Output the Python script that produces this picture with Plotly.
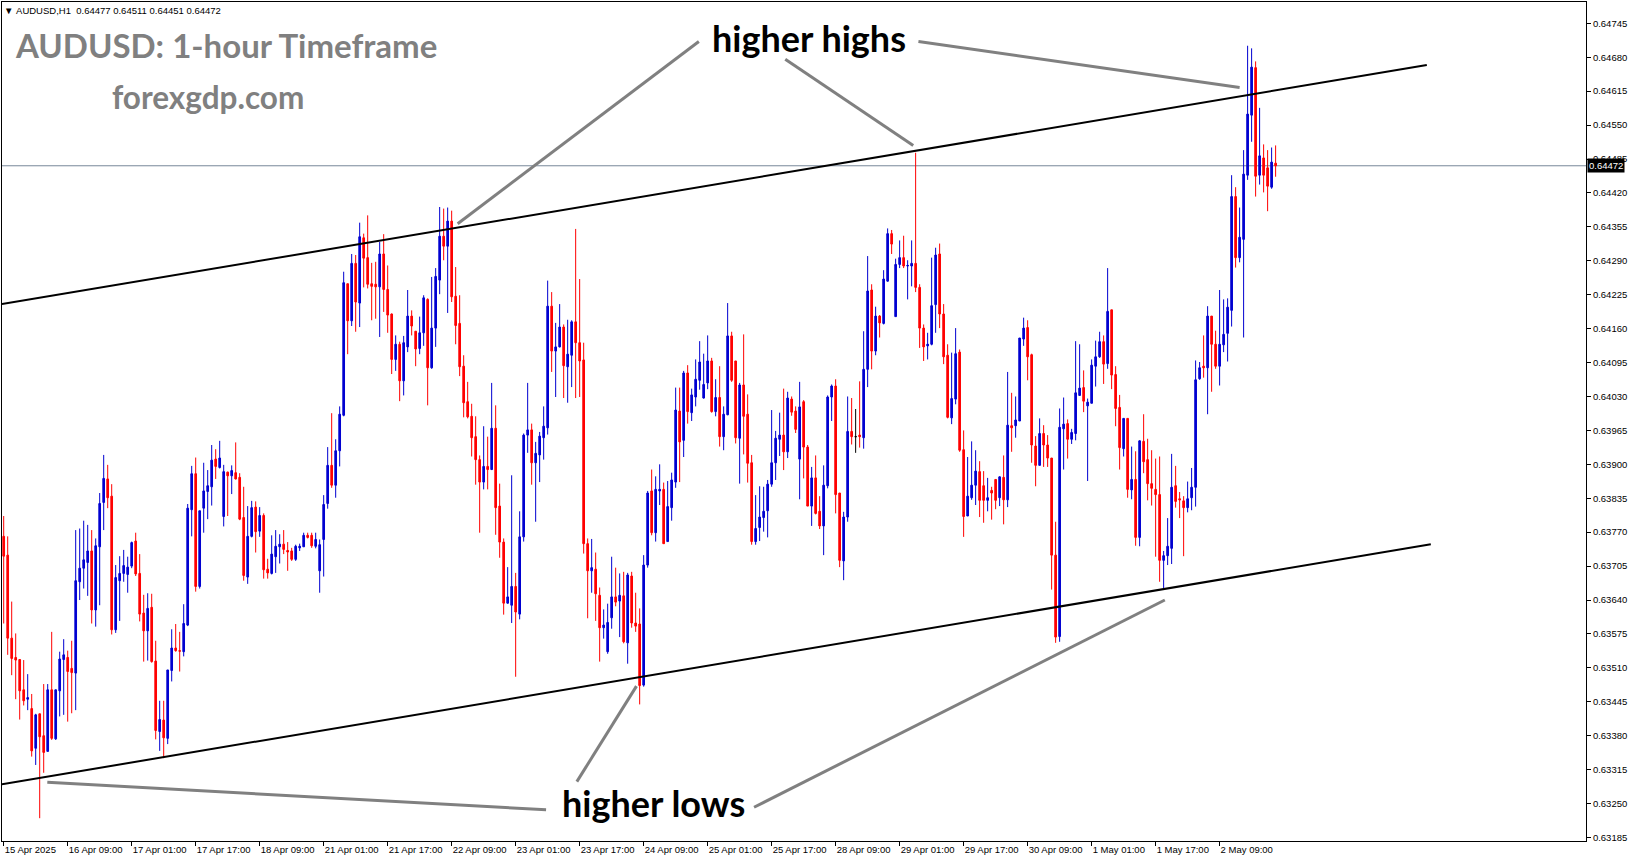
import plotly.graph_objects as go

# ---------------- data (AUDUSD H1) ----------------
open_ = [
0.63762,0.63726,0.63567,0.63530,0.63526,0.63468,0.63450,0.63432,0.63356,0.63422,
0.63380,0.63350,0.63468,0.63374,0.63466,0.63526,0.63530,0.63509,0.63500,0.63675,
0.63701,0.63712,0.63734,0.63621,0.63742,0.63827,0.63872,0.63839,0.63583,0.63677,
0.63691,0.63689,0.63705,0.63753,0.63691,0.63615,0.63581,0.63626,0.63523,0.63388,
0.63410,0.63375,0.63505,0.63548,0.63543,0.63541,0.63592,0.63813,0.63882,0.63666,
0.63816,0.63848,0.63857,0.63910,0.63894,0.63800,0.63885,0.63878,0.63884,0.63875,
0.63798,0.63684,0.63762,0.63818,0.63772,0.63802,0.63699,0.63691,0.63723,0.63742,
0.63747,0.63735,0.63734,0.63718,0.63740,0.63742,0.63764,0.63764,0.63743,0.63696,
0.63756,0.63825,0.63898,0.63860,0.63926,0.63994,0.64246,0.64175,0.64285,0.64209,
0.64334,0.64296,0.64246,0.64245,0.64240,0.64303,0.64235,0.64188,0.64101,0.64130,
0.64060,0.64125,0.64184,0.64155,0.64122,0.64152,0.64216,0.64085,0.64161,0.64253,
0.64337,0.64318,0.64366,0.64222,0.64170,0.64088,0.64020,0.63992,0.63953,0.63909,
0.63866,0.63896,0.63890,0.63969,0.63820,0.63751,0.63634,0.63630,0.63666,0.63613,
0.63761,0.63956,0.63966,0.63903,0.63918,0.63951,0.63970,0.64203,0.64117,0.64125,
0.64163,0.64087,0.64109,0.64173,0.64133,0.64100,0.63748,0.63696,0.63699,0.63649,
0.63587,0.63541,0.63606,0.63646,0.63638,0.63648,0.63558,0.63686,0.63596,0.63594,
0.63477,0.63707,0.63849,0.63769,0.63849,0.63852,0.63752,0.63817,0.63866,0.64002,
0.63946,0.64075,0.63999,0.64029,0.64061,0.64027,0.64056,0.64098,0.64001,0.64028,
0.63953,0.63995,0.64146,0.64098,0.63950,0.64052,0.63996,0.63903,0.63752,0.63779,
0.63798,0.63811,0.63862,0.63903,0.63948,0.63956,0.63924,0.64025,0.64002,0.63910,
0.64020,0.63933,0.63820,0.63874,0.63810,0.63782,0.63859,0.64029,0.64050,0.63845,
0.63715,0.63799,0.63963,0.63953,0.63956,0.63951,0.64082,0.64234,0.64117,0.64184,
0.64170,0.64251,0.64342,0.64183,0.64283,0.64296,0.64280,0.64280,0.64285,0.64239,
0.64161,0.64127,0.64130,0.64206,0.64303,0.64188,0.64109,0.63989,0.64025,0.64115,
0.63928,0.63801,0.63836,0.63860,0.63886,0.63859,0.63831,0.63850,0.63871,0.63836,
0.63875,0.63832,0.63974,0.63974,0.63983,0.64140,0.64162,0.64110,0.63935,0.63898,
0.63959,0.63937,0.63912,0.63726,0.63570,0.63968,0.63978,0.63948,0.63959,0.64032,
0.64047,0.64012,0.64017,0.64088,0.64106,0.64135,0.64093,0.64196,0.64072,0.64009,
0.63930,0.63988,0.63851,0.63871,0.63760,0.63944,0.63909,0.63863,0.63852,0.63842,
0.63716,0.63725,0.63739,0.63859,0.63834,0.63830,0.63817,0.63836,0.63856,0.64064,
0.64088,0.64085,0.64184,0.64130,0.64088,0.64129,0.64151,0.64195,0.64413,0.64296,
0.64331,0.64454,0.64569,0.64660,0.64454,0.64487,0.64468,0.64431,0.64477]

high = [
0.63801,0.63762,0.63637,0.63576,0.63526,0.63525,0.63498,0.63460,0.63422,0.63422,
0.63479,0.63479,0.63579,0.63468,0.63541,0.63565,0.63543,0.63562,0.63774,0.63777,
0.63792,0.63784,0.63774,0.63758,0.63845,0.63918,0.63899,0.63862,0.63707,0.63724,
0.63736,0.63723,0.63752,0.63769,0.63728,0.63650,0.63653,0.63652,0.63562,0.63447,
0.63447,0.63506,0.63584,0.63594,0.63579,0.63632,0.63824,0.63897,0.63913,0.63811,
0.63903,0.63889,0.63937,0.63929,0.63945,0.63899,0.63886,0.63898,0.63942,0.63883,
0.63857,0.63820,0.63830,0.63829,0.63818,0.63806,0.63719,0.63764,0.63774,0.63766,
0.63774,0.63751,0.63740,0.63746,0.63748,0.63769,0.63769,0.63769,0.63769,0.63756,
0.63841,0.63933,0.63998,0.63948,0.64011,0.64269,0.64246,0.64303,0.64301,0.64363,
0.64342,0.64377,0.64286,0.64288,0.64326,0.64341,0.64281,0.64189,0.64147,0.64135,
0.64146,0.64234,0.64195,0.64155,0.64183,0.64224,0.64218,0.64259,0.64276,0.64393,
0.64390,0.64392,0.64386,0.64278,0.64224,0.64109,0.64058,0.64016,0.63992,0.63917,
0.63973,0.63953,0.64056,0.64013,0.63863,0.63758,0.63703,0.63879,0.63692,0.63810,
0.63959,0.64056,0.63978,0.63943,0.63962,0.64011,0.64252,0.64230,0.64171,0.64207,
0.64168,0.64177,0.64176,0.64351,0.64255,0.64133,0.63758,0.63757,0.63731,0.63664,
0.63622,0.63633,0.63723,0.63702,0.63691,0.63694,0.63692,0.63694,0.63654,0.63624,
0.63726,0.63849,0.63890,0.63877,0.63900,0.63865,0.63868,0.63884,0.64047,0.64047,
0.64079,0.64090,0.64045,0.64101,0.64136,0.64112,0.64147,0.64104,0.64063,0.64088,
0.64011,0.64209,0.64154,0.64098,0.64056,0.64149,0.64034,0.63918,0.63841,0.63858,
0.63857,0.63870,0.64004,0.63964,0.63999,0.64045,0.64039,0.64030,0.64011,0.64058,
0.64023,0.63937,0.63895,0.63917,0.63839,0.63898,0.64032,0.64053,0.64063,0.63845,
0.63809,0.64030,0.64027,0.64006,0.64059,0.64155,0.64299,0.64245,0.64202,0.64186,
0.64272,0.64352,0.64349,0.64294,0.64329,0.64338,0.64291,0.64329,0.64497,0.64245,
0.64168,0.64152,0.64296,0.64315,0.64323,0.64207,0.64130,0.64114,0.64161,0.64120,
0.63965,0.63914,0.63944,0.63927,0.63906,0.63887,0.63874,0.63857,0.63871,0.63877,
0.63917,0.64077,0.64037,0.64030,0.64142,0.64181,0.64176,0.64112,0.63954,0.63988,
0.63975,0.63956,0.63912,0.63790,0.64007,0.64028,0.63986,0.63968,0.64136,0.64130,
0.64080,0.64026,0.64101,0.64137,0.64154,0.64147,0.64276,0.64196,0.64088,0.64033,
0.63988,0.63988,0.63934,0.63925,0.63946,0.63996,0.63949,0.63927,0.63911,0.63915,
0.63734,0.63797,0.63920,0.63897,0.63847,0.63839,0.63867,0.63893,0.64099,0.64096,
0.64147,0.64203,0.64184,0.64156,0.64234,0.64216,0.64218,0.64454,0.64431,0.64392,
0.64502,0.64702,0.64697,0.64672,0.64583,0.64513,0.64502,0.64507,0.64511]

low = [
0.63595,0.63535,0.63496,0.63450,0.63411,0.63438,0.63429,0.63340,0.63324,0.63222,
0.63309,0.63350,0.63372,0.63372,0.63417,0.63420,0.63407,0.63423,0.63429,0.63640,
0.63662,0.63648,0.63595,0.63589,0.63630,0.63774,0.63816,0.63574,0.63577,0.63600,
0.63675,0.63654,0.63701,0.63686,0.63599,0.63522,0.63524,0.63520,0.63373,0.63351,
0.63337,0.63364,0.63484,0.63541,0.63503,0.63532,0.63590,0.63762,0.63656,0.63662,
0.63769,0.63795,0.63821,0.63872,0.63892,0.63781,0.63801,0.63843,0.63871,0.63793,
0.63677,0.63671,0.63760,0.63731,0.63761,0.63681,0.63681,0.63689,0.63692,0.63710,
0.63728,0.63696,0.63715,0.63715,0.63734,0.63742,0.63758,0.63740,0.63739,0.63654,
0.63685,0.63815,0.63855,0.63836,0.63896,0.63992,0.64111,0.64165,0.64154,0.64163,
0.64239,0.64237,0.64176,0.64179,0.64144,0.64192,0.64152,0.64073,0.64079,0.64021,
0.64032,0.64115,0.64147,0.64088,0.64111,0.64127,0.64013,0.64083,0.64125,0.64226,
0.64291,0.64190,0.64211,0.64130,0.64069,0.63990,0.63988,0.63915,0.63861,0.63769,
0.63852,0.63852,0.63889,0.63765,0.63721,0.63612,0.63633,0.63596,0.63493,0.63603,
0.63752,0.63922,0.63861,0.63790,0.63866,0.63909,0.63957,0.64077,0.64029,0.64124,
0.64027,0.64018,0.64048,0.64027,0.64029,0.63729,0.63605,0.63654,0.63600,0.63522,
0.63566,0.63537,0.63585,0.63628,0.63569,0.63557,0.63518,0.63587,0.63579,0.63440,
0.63474,0.63702,0.63764,0.63752,0.63822,0.63748,0.63752,0.63792,0.63855,0.63866,
0.63914,0.63978,0.63983,0.64011,0.64043,0.64026,0.64044,0.63999,0.63992,0.63934,
0.63927,0.63994,0.64058,0.63940,0.63863,0.63919,0.63865,0.63746,0.63746,0.63753,
0.63771,0.63760,0.63857,0.63870,0.63916,0.63889,0.63912,0.63993,0.63960,0.63833,
0.63873,0.63820,0.63782,0.63804,0.63776,0.63726,0.63854,0.63983,0.63806,0.63703,
0.63678,0.63790,0.63938,0.63922,0.63932,0.63930,0.64048,0.64082,0.64109,0.64143,
0.64168,0.64250,0.64303,0.64183,0.64276,0.64276,0.64216,0.64241,0.64230,0.64123,
0.64098,0.64101,0.64128,0.64152,0.64161,0.64092,0.63988,0.63977,0.64015,0.63924,
0.63761,0.63801,0.63832,0.63822,0.63799,0.63788,0.63810,0.63794,0.63814,0.63820,
0.63785,0.63818,0.63924,0.63951,0.63983,0.64127,0.64061,0.63903,0.63858,0.63898,
0.63895,0.63895,0.63660,0.63558,0.63560,0.63890,0.63911,0.63939,0.63946,0.64032,
0.64000,0.63868,0.64017,0.64049,0.64104,0.64054,0.64083,0.64044,0.63973,0.63890,
0.63915,0.63836,0.63833,0.63744,0.63743,0.63883,0.63831,0.63821,0.63723,0.63675,
0.63661,0.63707,0.63709,0.63817,0.63797,0.63724,0.63808,0.63812,0.63819,0.64062,
0.64066,0.63996,0.64039,0.64083,0.64051,0.64115,0.64097,0.64164,0.64277,0.64287,
0.64143,0.64445,0.64518,0.64413,0.64436,0.64421,0.64385,0.64428,0.64451]

close = [
0.63724,0.63567,0.63528,0.63525,0.63466,0.63447,0.63453,0.63351,0.63420,0.63378,
0.63348,0.63468,0.63375,0.63468,0.63527,0.63535,0.63503,0.63501,0.63677,0.63701,
0.63717,0.63734,0.63621,0.63744,0.63825,0.63873,0.63836,0.63583,0.63683,0.63691,
0.63706,0.63703,0.63750,0.63690,0.63613,0.63581,0.63624,0.63522,0.63390,0.63411,
0.63376,0.63506,0.63548,0.63543,0.63542,0.63595,0.63816,0.63882,0.63666,0.63811,
0.63849,0.63859,0.63908,0.63896,0.63912,0.63886,0.63878,0.63888,0.63872,0.63795,
0.63687,0.63762,0.63817,0.63771,0.63802,0.63698,0.63692,0.63728,0.63743,0.63747,
0.63737,0.63732,0.63718,0.63743,0.63743,0.63764,0.63760,0.63744,0.63756,0.63746,
0.63823,0.63898,0.63860,0.63926,0.63996,0.64248,0.64175,0.64285,0.64211,0.64336,
0.64295,0.64245,0.64241,0.64240,0.64303,0.64235,0.64186,0.64101,0.64130,0.64060,
0.64133,0.64184,0.64165,0.64121,0.64152,0.64219,0.64085,0.64161,0.64260,0.64337,
0.64318,0.64366,0.64221,0.64166,0.64087,0.64018,0.63991,0.63951,0.63909,0.63866,
0.63896,0.63890,0.63969,0.63817,0.63751,0.63634,0.63646,0.63666,0.63617,0.63761,
0.63956,0.63966,0.63903,0.63921,0.63954,0.63973,0.64203,0.64117,0.64125,0.64163,
0.64089,0.64111,0.64173,0.64133,0.64098,0.63748,0.63696,0.63702,0.63652,0.63587,
0.63592,0.63597,0.63646,0.63636,0.63649,0.63560,0.63688,0.63596,0.63590,0.63476,
0.63707,0.63845,0.63769,0.63852,0.63852,0.63748,0.63819,0.63870,0.64004,0.63943,
0.64075,0.64001,0.64033,0.64063,0.64096,0.64053,0.64098,0.64001,0.64028,0.63953,
0.63996,0.64146,0.64061,0.63951,0.64052,0.63992,0.63902,0.63752,0.63777,0.63799,
0.63810,0.63862,0.63903,0.63950,0.63956,0.63924,0.64027,0.64000,0.63967,0.64010,
0.63933,0.63820,0.63874,0.63806,0.63782,0.63860,0.64029,0.64050,0.63842,0.63716,
0.63799,0.63963,0.63953,0.63953,0.63953,0.64082,0.64232,0.64117,0.64184,0.64171,
0.64255,0.64342,0.64322,0.64283,0.64296,0.64280,0.64281,0.64285,0.64239,0.64161,
0.64125,0.64130,0.64204,0.64301,0.64188,0.64106,0.63990,0.64026,0.64112,0.63927,
0.63800,0.63839,0.63860,0.63887,0.63831,0.63831,0.63836,0.63845,0.63831,0.63876,
0.63832,0.63975,0.63970,0.63985,0.64142,0.64161,0.64106,0.63937,0.63898,0.63959,
0.63937,0.63912,0.63726,0.63569,0.63971,0.63977,0.63948,0.63961,0.64037,0.64046,
0.64021,0.64019,0.64090,0.64106,0.64135,0.64092,0.64193,0.64071,0.64007,0.63932,
0.63988,0.63852,0.63871,0.63760,0.63945,0.63905,0.63863,0.63854,0.63842,0.63716,
0.63725,0.63743,0.63856,0.63829,0.63832,0.63817,0.63834,0.63856,0.64062,0.64085,
0.64085,0.64184,0.64130,0.64088,0.64130,0.64149,0.64201,0.64413,0.64296,0.64335,
0.64456,0.64571,0.64661,0.64452,0.64491,0.64454,0.64433,0.64479,0.64472]

# time-axis labels, one every 16 hourly bars
x_labels = ["15 Apr 2025", "16 Apr 09:00", "17 Apr 01:00", "17 Apr 17:00", "18 Apr 09:00",
            "21 Apr 01:00", "21 Apr 17:00", "22 Apr 09:00", "23 Apr 01:00", "23 Apr 17:00",
            "24 Apr 09:00", "25 Apr 01:00", "25 Apr 17:00", "28 Apr 09:00", "29 Apr 01:00",
            "29 Apr 17:00", "30 Apr 09:00", "1 May 01:00", "1 May 17:00", "2 May 09:00"]
label_step = 16

# price-axis ticks
y_ticks = [0.63185, 0.63250, 0.63315, 0.63380, 0.63445, 0.63510, 0.63575, 0.63640, 0.63705,
           0.63770, 0.63835, 0.63900, 0.63965, 0.64030, 0.64095, 0.64160, 0.64225, 0.64290,
           0.64355, 0.64420, 0.64485, 0.64550, 0.64615, 0.64680, 0.64745]

last_price = 0.64472

# drawn channel lines (bar index, price)
channel_upper = [(-0.43, 0.64207), (355.8, 0.64665)]
channel_lower = [(-0.43, 0.63287), (356.8, 0.63747)]
# pointer lines of the annotations
pointers = [
    [(113.5, 0.64361), (173.8, 0.64710)],
    [(195.4, 0.64676), (227.4, 0.64511)],
    [(228.7, 0.64710), (309.0, 0.64622)],
    [(10.9, 0.63291), (135.6, 0.63238)],
    [(143.3, 0.63292), (158.2, 0.63475)],
    [(187.6, 0.63243), (290.3, 0.63640)],
]

assert len(open_) == len(high) == len(low) == len(close), (len(open_), len(high), len(low), len(close))

# ---------------- figure ----------------
BLUE = "#0000D0"
RED = "#FF0000"
idx = list(range(len(close)))

bull = [i for i in idx if close[i] > open_[i]]
bear = [i for i in idx if close[i] < open_[i]]
doji = [i for i in idx if close[i] == open_[i]]


def ctrace(sel, color):
    style = dict(line=dict(color=color, width=1), fillcolor=color)
    return go.Candlestick(
        x=[idx[i] for i in sel],
        open=[open_[i] for i in sel], high=[high[i] for i in sel],
        low=[low[i] for i in sel], close=[close[i] for i in sel],
        increasing=style, decreasing=style, whiskerwidth=0,
        showlegend=False, hoverinfo="skip")


fig = go.Figure()
fig.add_trace(ctrace(bull, BLUE))
fig.add_trace(ctrace(bear, RED))
if doji:
    fig.add_trace(ctrace(doji, "#000000"))

shapes = []
# current price line
shapes.append(dict(type="line", xref="paper", yref="y", x0=0, x1=1, y0=last_price, y1=last_price,
                   line=dict(color="#778899", width=1), layer="below"))
for (p0, p1) in [channel_upper, channel_lower]:
    shapes.append(dict(type="line", xref="x", yref="y", x0=p0[0], y0=p0[1], x1=p1[0], y1=p1[1],
                       line=dict(color="#000000", width=2)))
for (p0, p1) in pointers:
    shapes.append(dict(type="line", xref="x", yref="y", x0=p0[0], y0=p0[1], x1=p1[0], y1=p1[1],
                       line=dict(color="#808080", width=3)))

NB = "\u00a0"
annotations = [
    dict(text="\u25bc" + NB + "AUDUSD,H1" + NB * 2 + "0.64477 0.64511 0.64451 0.64472",
         xref="paper", yref="paper", x=0.0, y=0.9899, xanchor="left", yanchor="middle",
         showarrow=False, font=dict(family="Liberation Sans", size=9.5, color="#000000")),
    dict(text="<b>AUDUSD: 1-hour Timeframe</b>", xref="paper", yref="paper", x=0.0068, y=0.9483,
         xanchor="left", yanchor="middle", showarrow=False,
         font=dict(family="Lato", size=33, color="#808080")),
    dict(text="<b>forexgdp.com</b>", xref="paper", yref="paper", x=0.130, y=0.8865,
         xanchor="center", yanchor="middle", showarrow=False,
         font=dict(family="Lato", size=31.5, color="#808080")),
    dict(text="<b>higher highs</b>", xref="paper", yref="paper", x=0.5095, y=0.957,
         xanchor="center", yanchor="middle", showarrow=False,
         font=dict(family="Lato", size=36, color="#000000")),
    dict(text="<b>higher lows</b>", xref="paper", yref="paper", x=0.4113, y=0.0447,
         xanchor="center", yanchor="middle", showarrow=False,
         font=dict(family="Lato", size=36, color="#000000")),
    dict(text=f"{last_price:.5f}", xref="paper", yref="y", x=1, y=last_price, xshift=1,
         xanchor="left", yanchor="middle", showarrow=False, bgcolor="#000000", borderpad=1,
         font=dict(family="Liberation Sans", size=9.5, color="#FFFFFF")),
]

axis_font = dict(family="Liberation Sans", size=9.5, color="#000000")
fig.update_layout(
    width=1631, height=861,
    margin=dict(l=2, r=45, t=2, b=20),
    paper_bgcolor="#FFFFFF", plot_bgcolor="#FFFFFF",
    boxgap=0.4, showlegend=False,
    shapes=shapes, annotations=annotations,
    xaxis=dict(range=[-0.425, 395.6], tickmode="array",
               tickvals=[k * label_step for k in range(len(x_labels))], ticktext=x_labels,
               tickangle=0,
               ticks="outside", ticklen=4, tickcolor="#000000", tickfont=axis_font,
               ticklabelposition="outside right",
               showline=True, linecolor="#000000", linewidth=1, mirror=True,
               showgrid=False, zeroline=False, rangeslider=dict(visible=False), fixedrange=True),
    yaxis=dict(range=[0.631783, 0.647858], side="right", tickmode="array",
               tickvals=y_ticks, ticktext=[f"{v:.5f}" for v in y_ticks],
               ticks="outside", ticklen=4, tickcolor="#000000", tickfont=axis_font,
               showline=True, linecolor="#000000", linewidth=1, mirror=True,
               showgrid=False, zeroline=False, fixedrange=True),
)

fig.write_html("out.html", config={"displayModeBar": False},
               post_script="document.body.style.margin='0';document.body.style.overflow='hidden';")
